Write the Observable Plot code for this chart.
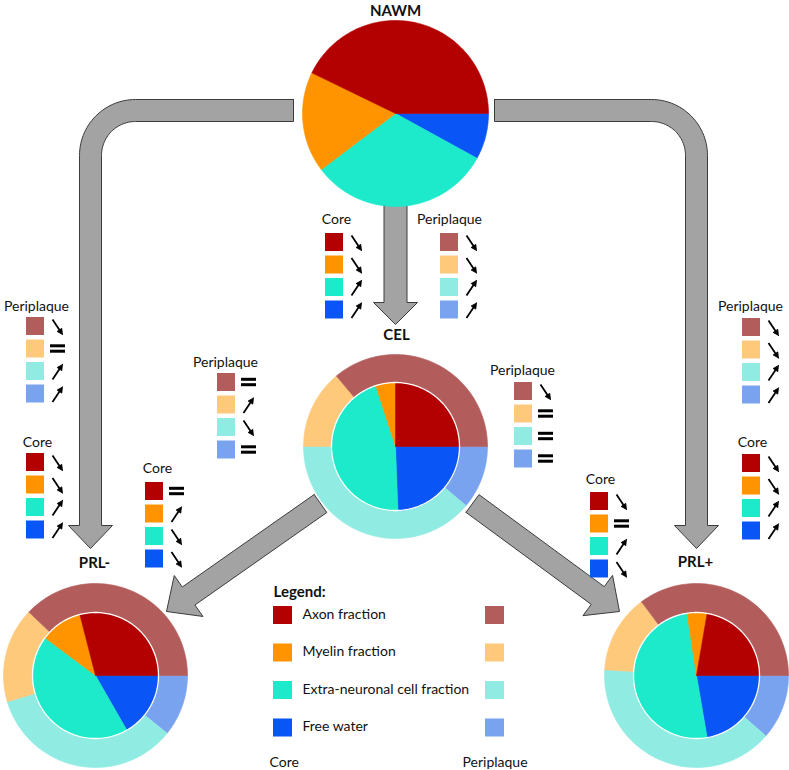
<!DOCTYPE html>
<html><head><meta charset="utf-8">
<script src="https://cdn.jsdelivr.net/npm/d3@7"></script>
<script src="https://cdn.jsdelivr.net/npm/@observablehq/plot@0.6"></script>
<style>html,body{margin:0;padding:0;background:#fff}</style>
</head><body><div id="chart"></div>
<script>
// ---------- DATA ----------
const fractions = ["Axon fraction", "Myelin fraction", "Extra-neuronal cell fraction", "Free water"];
const regionNames = ["NAWM", "CEL", "PRL-", "PRL+"];
const groupNames = ["Core", "Periplaque"];
// percentages (Axon, Myelin, Extra-neuronal, Free water)
const nawmCore     = [42.8, 17.5, 31.7, 8.0];
const celCore      = [25.0, 5.0, 45.6, 24.4];
const celPeri      = [36.1, 13.9, 38.9, 11.1];
const prlMinusCore = [29.0, 10.8, 43.5, 16.7];
const prlMinusPeri = [37.9, 16.7, 34.6, 10.8];
const prlPlusCore  = [22.3, 5.1, 50.3, 22.3];
const prlPlusPeri  = [35.2, 13.8, 39.6, 11.4];
// change directions
const nawmToCelCore      = ["down", "down", "up", "up"];
const nawmToCelPeri      = ["down", "down", "up", "up"];
const nawmToPrlMinusPeri = ["down", "eq", "up", "up"];
const nawmToPrlMinusCore = ["down", "down", "up", "up"];
const celToPrlMinusPeri  = ["eq", "up", "down", "eq"];
const celToPrlMinusCore  = ["eq", "up", "down", "down"];
const celToPrlPlusPeri   = ["down", "eq", "eq", "eq"];
const celToPrlPlusCore   = ["down", "eq", "up", "down"];
const nawmToPrlPlusPeri  = ["down", "down", "up", "up"];
const nawmToPrlPlusCore  = ["down", "down", "up", "up"];

// ---------- STYLE / LAYOUT ----------
const coreColors = ["#b30000", "#ff9400", "#1de9cb", "#0a55f5"];
const periColors = ["#b35c5c", "#ffc97c", "#90ebe3", "#7aa3ef"];
const arrowFill = "#a3a3a3", arrowStroke = "#3c3c3c";

const pieLayout = [
  {name: "NAWM", cx: 395, cy: 113, r: 93, core: nawmCore, peri: null, lx: 395, ly: 11},
  {name: "CEL", cx: 395, cy: 446, r: 64, R: 92, core: celCore, peri: celPeri, lx: 396, ly: 335},
  {name: "PRL-", cx: 95, cy: 675, r: 63, R: 92, core: prlMinusCore, peri: prlMinusPeri, lx: 94, ly: 563},
  {name: "PRL+", cx: 696, cy: 675, r: 63, R: 92, core: prlPlusCore, peri: prlPlusPeri, lx: 695, ly: 562}
];

const boxLayout = [
  {label: "Core", trend: nawmToCelCore, colors: coreColors, x: 325, y: 233, lx: 336, ly: 219},
  {label: "Periplaque", trend: nawmToCelPeri, colors: periColors, x: 440, y: 233, lx: 449, ly: 219},
  {label: "Periplaque", trend: nawmToPrlMinusPeri, colors: periColors, x: 26, y: 317, lx: 36, ly: 306},
  {label: "Core", trend: nawmToPrlMinusCore, colors: coreColors, x: 26, y: 453, lx: 37, ly: 442},
  {label: "Periplaque", trend: celToPrlMinusPeri, colors: periColors, x: 217, y: 373, lx: 225, ly: 362},
  {label: "Core", trend: celToPrlMinusCore, colors: coreColors, x: 145, y: 482, lx: 157, ly: 468},
  {label: "Periplaque", trend: celToPrlPlusPeri, colors: periColors, x: 514, y: 382, lx: 522, ly: 370},
  {label: "Core", trend: celToPrlPlusCore, colors: coreColors, x: 590, y: 492, lx: 600, ly: 479},
  {label: "Periplaque", trend: nawmToPrlPlusPeri, colors: periColors, x: 742, y: 318, lx: 750, ly: 306},
  {label: "Core", trend: nawmToPrlPlusCore, colors: coreColors, x: 742, y: 454, lx: 752, ly: 442}
];
const SQ = 18, STEP = 22.5;

const bentArrows = [
  {x0: 293, yh: 110, xv: 90, tipY: 548, R: 45, w: 22, hw: 22, hl: 23},
  {x0: 494, yh: 110, xv: 696, tipY: 548, R: 45, w: 22, hw: 22, hl: 23}
];
const straightArrows = [
  {sx: 395, sy: 205, tx: 395, ty: 324, w: 23, hw: 22, hl: 22},
  {sx: 320, sy: 503, tx: 166, ty: 611, w: 22, hw: 25, hl: 27},
  {sx: 472, sy: 503, tx: 619, ty: 611, w: 22, hw: 25, hl: 27}
];

const legendLayout = {x: 273, titleY: 592, y0: 606, step: 37.5, labelX: 302, periX: 485, footY: 762, coreX: 269, periLabelX: 462};

// ---------- GEOMETRY HELPERS ----------
const rad = d => d * Math.PI / 180;
function arcPts(cx, cy, r, a0, a1) {
  const n = Math.max(2, Math.ceil(Math.abs(a1 - a0) / 1.5));
  const pts = [];
  for (let k = 0; k <= n; k++) {
    const a = rad(a0 + (a1 - a0) * k / n);
    pts.push([cx + r * Math.sin(a), cy - r * Math.cos(a)]);
  }
  return pts;
}
function slices(values) {
  const total = d3.sum(values);
  let a = 90;
  const out = [];
  for (const i of [3, 2, 1, 0]) {
    const span = values[i] / total * 360;
    out.push({i, a0: a, a1: a + span});
    a += span;
  }
  return out;
}

const shapeRows = [];
let shapeId = 0;
function addShape(pts, fill) {
  const id = shapeId++;
  for (const [x, y] of pts) shapeRows.push({id, x, y, fill});
}

// pies
const circleRows = [];
for (const p of pieLayout) {
  if (p.peri) {
    for (const s of slices(p.peri)) {
      const outer = arcPts(p.cx, p.cy, p.R, s.a0, s.a1);
      const inner = arcPts(p.cx, p.cy, p.r, s.a1, s.a0);
      addShape([...outer, ...inner, outer[0]], periColors[s.i]);
    }
  }
  for (const s of slices(p.core)) {
    addShape([[p.cx, p.cy], ...arcPts(p.cx, p.cy, p.r, s.a0, s.a1), [p.cx, p.cy]], coreColors[s.i]);
  }
  if (p.peri) {
    for (const [x, y] of arcPts(p.cx, p.cy, p.r, 0, 360)) circleRows.push({name: p.name, x, y});
  }
}

// arrows
const arrowRows = [];
let arrowId = 0;
function addArrow(pts) {
  const id = arrowId++;
  for (const [x, y] of pts) arrowRows.push({id, x, y});
}
for (const a of bentArrows) {
  const s = Math.sign(a.xv - a.x0);
  const cx = a.xv - s * a.R, cy = a.yh + a.R;
  const B = a.tipY - a.hl;
  const pts = [[a.x0, a.yh - a.w / 2]];
  for (let k = 0; k <= 30; k++) {
    const t = rad(90 * k / 30);
    pts.push([cx + s * (a.R + a.w / 2) * Math.sin(t), cy - (a.R + a.w / 2) * Math.cos(t)]);
  }
  pts.push([a.xv + s * a.w / 2, B], [a.xv + s * a.hw, B], [a.xv, a.tipY], [a.xv - s * a.hw, B], [a.xv - s * a.w / 2, B]);
  for (let k = 30; k >= 0; k--) {
    const t = rad(90 * k / 30);
    pts.push([cx + s * (a.R - a.w / 2) * Math.sin(t), cy - (a.R - a.w / 2) * Math.cos(t)]);
  }
  pts.push([a.x0, a.yh + a.w / 2], [a.x0, a.yh - a.w / 2]);
  addArrow(pts);
}
for (const a of straightArrows) {
  const dx = a.tx - a.sx, dy = a.ty - a.sy, L = Math.hypot(dx, dy);
  const ux = dx / L, uy = dy / L, nx = -uy, ny = ux;
  const bx = a.tx - ux * a.hl, by = a.ty - uy * a.hl;
  const h = a.w / 2;
  addArrow([
    [a.sx + nx * h, a.sy + ny * h], [bx + nx * h, by + ny * h], [bx + nx * a.hw, by + ny * a.hw],
    [a.tx, a.ty], [bx - nx * a.hw, by - ny * a.hw], [bx - nx * h, by - ny * h],
    [a.sx - nx * h, a.sy - ny * h], [a.sx + nx * h, a.sy + ny * h]
  ]);
}

// trend boxes
const squares = [], shafts = [], heads = [], eqBars = [], boxLabels = [];
let headId = 0;
function addGlyph(x1, y1, x2, y2) {
  const dx = x2 - x1, dy = y2 - y1, len = Math.hypot(dx, dy);
  const ux = dx / len, uy = dy / len, nx = -uy, ny = ux;
  const hl = 5.5, hw = 2.8;
  const bx = x2 - ux * hl, by = y2 - uy * hl;
  shafts.push({x1, y1, x2: bx + ux, y2: by + uy});
  const id = headId++;
  for (const [x, y] of [[x2, y2], [bx + nx * hw, by + ny * hw], [bx - nx * hw, by - ny * hw], [x2, y2]]) heads.push({id, x, y});
}
for (const b of boxLayout) {
  boxLabels.push({x: b.lx, y: b.ly, text: b.label});
  b.trend.forEach((t, i) => {
    const top = b.y + i * STEP;
    squares.push({x1: b.x, x2: b.x + SQ, y1: top, y2: top + SQ, fill: b.colors[i]});
    if (t === "down") addGlyph(b.x + 26, top + 2, b.x + 36, top + 17);
    else if (t === "up") addGlyph(b.x + 26, top + 17, b.x + 36, top + 2);
    else {
      const c = top + SQ / 2;
      eqBars.push({x1: b.x + 24, x2: b.x + 39, y1: c - 4.2, y2: c - 1.2});
      eqBars.push({x1: b.x + 24, x2: b.x + 39, y1: c + 1.2, y2: c + 4.2});
    }
  });
}

// legend
const L = legendLayout;
const legendSquares = [], legendTexts = [];
fractions.forEach((f, i) => {
  const top = L.y0 + i * L.step;
  legendSquares.push({x1: L.x, x2: L.x + 19, y1: top, y2: top + 18, fill: coreColors[i]});
  legendSquares.push({x1: L.periX, x2: L.periX + 19, y1: top, y2: top + 18, fill: periColors[i]});
  legendTexts.push({x: L.labelX, y: top + 8, text: f});
});
legendTexts.push({x: L.coreX, y: L.footY, text: groupNames[0]});
legendTexts.push({x: L.periLabelX, y: L.footY, text: groupNames[1]});

const titleRows = pieLayout.map((p, i) => ({x: p.lx, y: p.ly, text: regionNames[i]}));

const chart = Plot.plot({
  width: 789, height: 770, margin: 0,
  style: {fontFamily: "Lato, 'Open Sans', sans-serif", background: "#fff"},
  x: {domain: [0, 789], range: [0, 789], axis: null},
  y: {domain: [0, 770], range: [0, 770], axis: null},
  color: {type: "identity"},
  marks: [
    Plot.line(arrowRows, {x: "x", y: "y", z: "id", fill: arrowFill, stroke: arrowStroke, strokeWidth: 1, curve: "linear"}),
    Plot.line(shapeRows, {x: "x", y: "y", z: "id", fill: "fill", stroke: "fill", strokeWidth: 0.6, curve: "linear"}),
    Plot.line(circleRows, {x: "x", y: "y", z: "name", stroke: "#ffffff", strokeWidth: 1.3, curve: "linear"}),
    Plot.rect(squares, {x1: "x1", x2: "x2", y1: "y1", y2: "y2", fill: "fill"}),
    Plot.link(shafts, {x1: "x1", y1: "y1", x2: "x2", y2: "y2", stroke: "#000", strokeWidth: 1.8}),
    Plot.line(heads, {x: "x", y: "y", z: "id", fill: "#000", stroke: "#000", strokeWidth: 0.8, curve: "linear"}),
    Plot.rect(eqBars, {x1: "x1", x2: "x2", y1: "y1", y2: "y2", fill: "#000"}),
    Plot.text(boxLabels, {x: "x", y: "y", text: "text", fontSize: 14, fill: "#111", textAnchor: "middle", lineAnchor: "middle"}),
    Plot.text(titleRows, {x: "x", y: "y", text: "text", fontSize: 15, fontWeight: "bold", fill: "#111", textAnchor: "middle", lineAnchor: "middle"}),
    Plot.rect(legendSquares, {x1: "x1", x2: "x2", y1: "y1", y2: "y2", fill: "fill"}),
    Plot.text([{x: L.x, y: L.titleY, text: "Legend:"}], {x: "x", y: "y", text: "text", fontSize: 15, fontWeight: "bold", fill: "#111", textAnchor: "start", lineAnchor: "middle"}),
    Plot.text(legendTexts, {x: "x", y: "y", text: "text", fontSize: 14, fill: "#111", textAnchor: "start", lineAnchor: "middle"})
  ]
});
document.getElementById("chart").appendChild(chart);
</script>
</body></html>
